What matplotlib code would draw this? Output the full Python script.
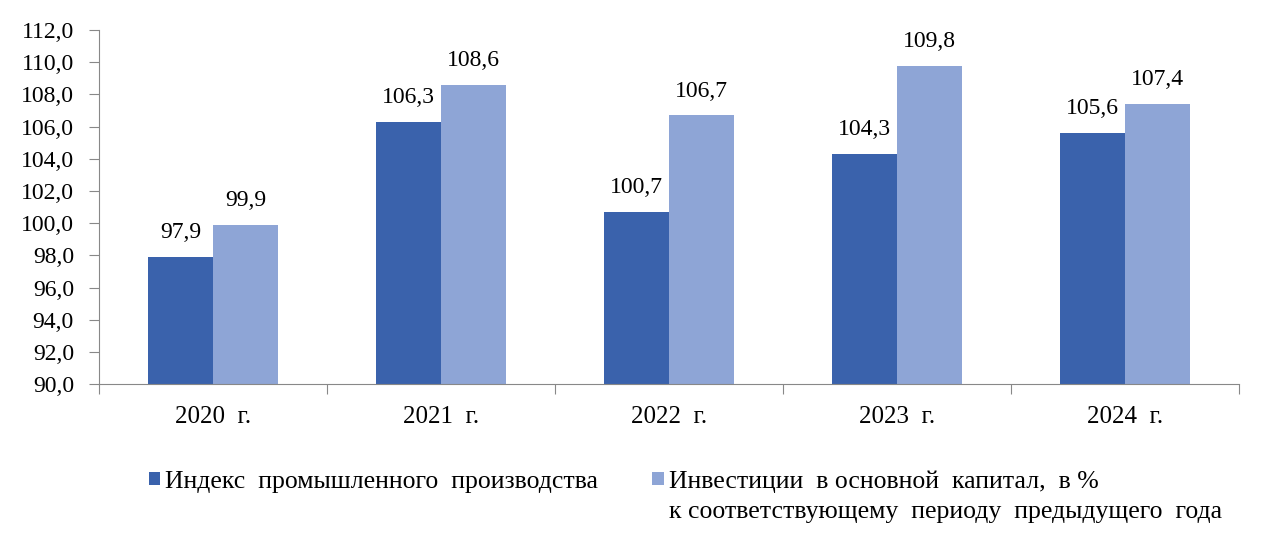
import matplotlib.pyplot as plt
from matplotlib.patches import Rectangle
import numpy as np

years = ["2020  г.", "2021  г.", "2022  г.", "2023  г.", "2024  г."]
prom = [97.9, 106.3, 100.7, 104.3, 105.6]
invest = [99.9, 108.6, 106.7, 109.8, 107.4]
label_prom = "Индекс  промышленного  производства"
label_inv1 = "Инвестиции  в основной  капитал,  в %"
label_inv2 = "к соответствующему  периоду  предыдущего  года"

plt.rcParams['font.family'] = ['Liberation Serif', 'DejaVu Serif']

fig = plt.figure(figsize=(12.68, 5.38), dpi=100)
ax = fig.add_axes([0.078, 0.286, 0.899, 0.658])

x = np.arange(len(years))
w = 0.285
b1 = ax.bar(x - w / 2, prom, w, color="#3A62AC")
b2 = ax.bar(x + w / 2, invest, w, color="#8EA5D6")

for bars in (b1, b2):
    for r in bars:
        h = r.get_height()
        ax.annotate(f"{h:.1f}".replace(".", ","), (r.get_x() + r.get_width() / 2, h),
                    xytext=(0, 10), textcoords="offset points", ha="center", va="bottom",
                    fontsize=17)

ticks = np.arange(90, 112.1, 2)
ax.set_ylim(90, 112)
ax.set_yticks(ticks)
ax.set_yticklabels([f"{v:.1f}".replace(".", ",") for v in ticks])
ax.set_xlim(-0.5, len(years) - 0.5)
ax.set_xticks(np.arange(-0.5, len(years), 1))
ax.set_xticklabels([])
ax.set_xticks(x, minor=True)
ax.set_xticklabels(years, minor=True)
ax.tick_params(axis="x", which="minor", length=0, pad=16, labelsize=18)
ax.tick_params(axis="x", which="major", length=7, color="#888888")
ax.tick_params(axis="y", length=7, color="#888888", labelsize=17, pad=11)

for s in ("top", "right"):
    ax.spines[s].set_visible(False)
for s in ("left", "bottom"):
    ax.spines[s].set_color("#888888")

blank = Rectangle((0, 0), 1, 1, visible=False)
fig.legend(handles=[b1, blank, b2, blank], labels=[label_prom, "", label_inv1, label_inv2],
           loc="upper left", bbox_to_anchor=(0.107, 0.15),
           ncol=2, frameon=False, fontsize=18.5, handlelength=0.45, handleheight=0.45,
           handletextpad=0.2, columnspacing=2.1, labelspacing=0.32, borderpad=0)

fig.savefig("out.png", dpi=100)
